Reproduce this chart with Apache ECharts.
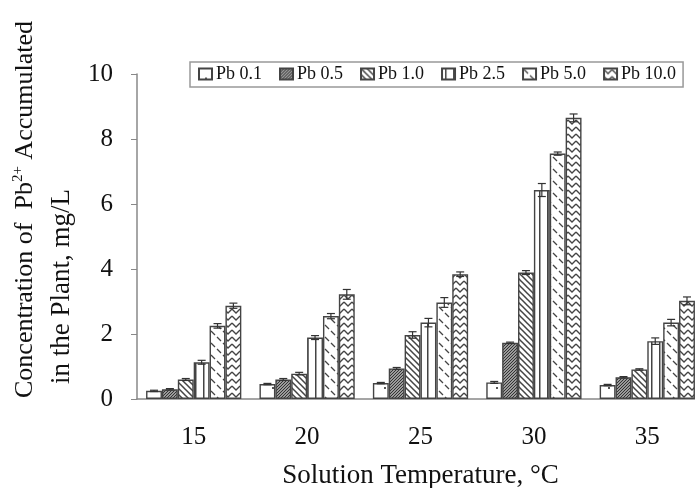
<!DOCTYPE html>
<html>
<head>
<meta charset="utf-8">
<script src="https://cdn.jsdelivr.net/npm/echarts@6/dist/echarts.min.js"></script>
<style>
  html, body { margin: 0; padding: 0; background: #fff; }
  #chart { width: 695px; height: 488px; }
</style>
</head>
<body>
<div id="chart"></div>
<script>
// temperatures (x categories)
var temps = ['15', '20', '25', '30', '35'];
var seriesNames = ['Pb 0.1', 'Pb 0.5', 'Pb 1.0', 'Pb 2.5', 'Pb 5.0', 'Pb 10.0'];

// accumulated Pb2+ (mg/L)
var pb01 = [0.25, 0.46, 0.49, 0.51, 0.43];
var pb05 = [0.30, 0.60, 0.94, 1.73, 0.67];
var pb10 = [0.60, 0.78, 1.97, 3.89, 0.91];
var pb25 = [1.13, 1.89, 2.35, 6.43, 1.78];
var pb50 = [2.25, 2.55, 2.97, 7.55, 2.35];
var pb100 = [2.87, 3.22, 3.84, 8.65, 3.02];

// error bar half heights
var err01 = [0.02, 0.02, 0.02, 0.03, 0.02];
var err05 = [0.02, 0.03, 0.03, 0.02, 0.02];
var err10 = [0.03, 0.04, 0.10, 0.06, 0.02];
var err25 = [0.06, 0.06, 0.13, 0.20, 0.10];
var err50 = [0.07, 0.08, 0.15, 0.05, 0.10];
var err100 = [0.08, 0.15, 0.07, 0.12, 0.12];

var values = [pb01, pb05, pb10, pb25, pb50, pb100];
var errors = [err01, err05, err10, err25, err50, err100];

var FONT = '"Liberation Serif", "Times New Roman", serif';
var BAR_FRAC = 0.14;

function pat(w, h, draw) {
  var c = document.createElement('canvas');
  c.width = w; c.height = h;
  var g = c.getContext('2d');
  g.fillStyle = '#fff';
  g.fillRect(0, 0, w, h);
  g.strokeStyle = '#444';
  g.fillStyle = '#444';
  draw(g);
  return { image: c, repeat: 'repeat' };
}

var patterns = [
  // sparse dots
  pat(14, 14, function (g) { g.fillStyle = '#555'; g.fillRect(6, 9, 2, 2); }),
  // dark stipple
  pat(3, 3, function (g) {
    g.fillStyle = '#9a9a9a'; g.fillRect(0, 0, 3, 3);
    g.fillStyle = '#333'; g.fillRect(0, 0, 1, 1); g.fillRect(2, 1, 1, 1); g.fillRect(1, 2, 1, 1);
  }),
  // diagonal lines
  pat(6, 6, function (g) {
    g.lineWidth = 1.5;
    g.beginPath();
    g.moveTo(-1, -1); g.lineTo(7, 7);
    g.moveTo(-4, 2); g.lineTo(4, 10);
    g.moveTo(2, -4); g.lineTo(10, 4);
    g.stroke();
  }),
  // vertical lines
  pat(8, 8, function (g) { g.fillRect(3, 0, 1.5, 8); }),
  // sparse diagonal dashes
  pat(12, 12, function (g) {
    g.lineWidth = 1.3;
    g.beginPath();
    g.moveTo(1, 1); g.lineTo(5, 5);
    g.moveTo(7, 7); g.lineTo(11, 11);
    g.stroke();
  }),
  // zigzag
  pat(8, 7, function (g) {
    g.lineWidth = 1.3;
    g.beginPath();
    g.moveTo(0, 1); g.lineTo(4, 5); g.lineTo(8, 1);
    g.stroke();
  })
];

var chart = echarts.init(document.getElementById('chart'));

var series = [];
seriesNames.forEach(function (name, k) {
  series.push({
    name: name,
    type: 'bar',
    data: values[k],
    barWidth: (BAR_FRAC * 100) + '%',
    barGap: '0%',
    itemStyle: { color: patterns[k], borderColor: '#444', borderWidth: 1.4 }
  });
});
seriesNames.forEach(function (name, k) {
  series.push({
    type: 'custom',
    z: 10,
    silent: true,
    data: values[k].map(function (v, i) { return [i, v, errors[k][i]]; }),
    renderItem: function (params, api) {
      var c = api.value(0), v = api.value(1), e = api.value(2);
      var bw = api.size([1, 0])[0] * BAR_FRAC;
      var off = (k - 2.5) * bw;
      var hi = api.coord([c, v + e]);
      var lo = api.coord([c, v - e]);
      var x = hi[0] + off;
      var cap = 4;
      var st = { stroke: '#333', lineWidth: 1.2 };
      return {
        type: 'group',
        children: [
          { type: 'line', shape: { x1: x, y1: hi[1], x2: x, y2: lo[1] }, style: st },
          { type: 'line', shape: { x1: x - cap, y1: hi[1], x2: x + cap, y2: hi[1] }, style: st },
          { type: 'line', shape: { x1: x - cap, y1: lo[1], x2: x + cap, y2: lo[1] }, style: st }
        ]
      };
    }
  });
});

chart.setOption({
  animation: false,
  backgroundColor: '#fff',
  textStyle: { fontFamily: FONT },
  grid: { left: 137, right: -9, top: 74, bottom: 89, outerBoundsMode: 'none', containLabel: false },
  legend: {
    data: seriesNames,
    icon: 'rect',
    left: 190,
    top: 62,
    width: 500,
    padding: [3, 7, 4, 8],
    itemGap: 17,
    itemWidth: 13,
    itemHeight: 11,
    borderColor: '#999',
    borderWidth: 1.5,
    textStyle: { fontFamily: FONT, fontSize: 18, color: '#111', padding: [0, 0, 0, -1] }
  },
  xAxis: {
    type: 'category',
    data: temps,
    name: 'Solution Temperature, \u00B0C',
    nameLocation: 'middle',
    nameGap: 63,
    nameTextStyle: { fontFamily: FONT, fontSize: 27, color: '#111' },
    axisLine: { lineStyle: { color: '#888', width: 1.5 } },
    axisTick: { length: 5, lineStyle: { color: '#888' } },
    axisLabel: { fontFamily: FONT, fontSize: 25, color: '#111', margin: 26 }
  },
  yAxis: {
    type: 'value',
    min: 0,
    max: 10,
    interval: 2,
    splitLine: { show: false },
    axisLine: { show: true, lineStyle: { color: '#888', width: 1.5 } },
    axisTick: { show: true, length: 6, lineStyle: { color: '#888' } },
    axisLabel: { fontFamily: FONT, fontSize: 25, color: '#111', margin: 24 }
  },
  graphic: [
    {
      type: 'text',
      x: 25, y: 398,
      rotation: Math.PI / 2,
      style: {
        text: '{a|Concentration of  Pb}{s|2+}{a| Accumulated}',
        textAlign: 'left',
        textVerticalAlign: 'middle',
        fill: '#111',
        rich: {
          a: { fontFamily: FONT, fontSize: 26, lineHeight: 28, fill: '#111' },
          s: { fontFamily: FONT, fontSize: 15, lineHeight: 16, verticalAlign: 'top', fill: '#111' }
        }
      }
    },
    {
      type: 'text',
      x: 62, y: 384,
      rotation: Math.PI / 2,
      style: {
        text: 'in the Plant, mg/L',
        textAlign: 'left',
        textVerticalAlign: 'middle',
        fill: '#111',
        font: '27px ' + FONT
      }
    }
  ],
  series: series
});
</script>
</body>
</html>
